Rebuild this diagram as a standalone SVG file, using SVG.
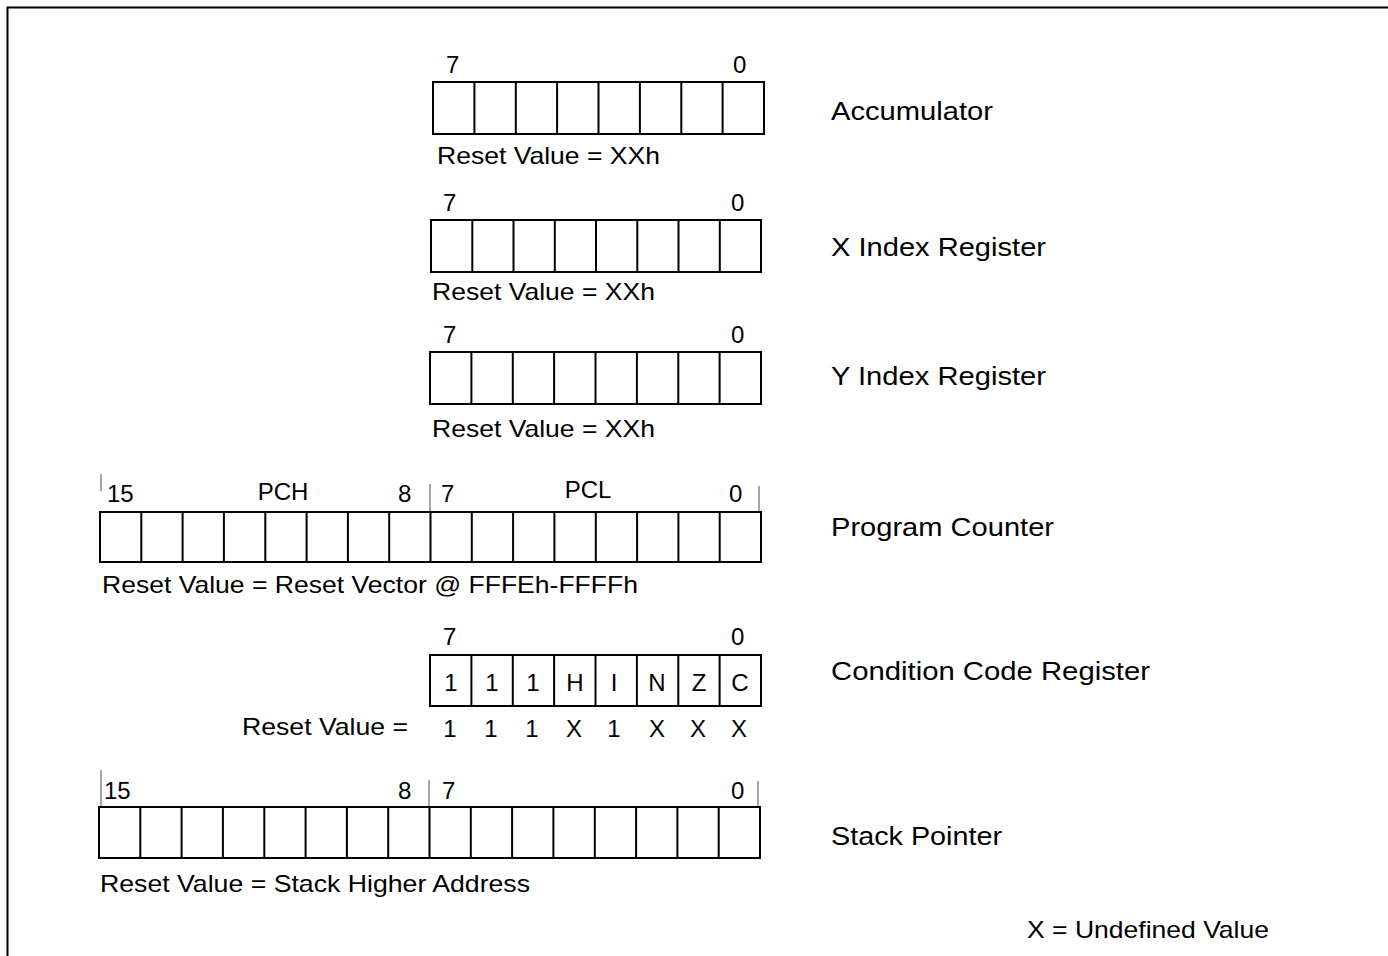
<svg xmlns="http://www.w3.org/2000/svg" width="1388" height="956" viewBox="0 0 1388 956">
<style>
text{font-family:"Liberation Sans",Arial,sans-serif;fill:#000}
.t{font-size:24px}
.lbl{font-size:26px}
.box{fill:#fff;stroke:#000;stroke-width:2}
.div{stroke:#000;stroke-width:2;fill:none}
.tick{stroke:#888;stroke-width:1.5}
.c{text-anchor:middle}
</style>
<rect width="1388" height="956" fill="#fff"/>
<g id="frame"><path d="M7.5 956 V7.5 H1388" fill="none" stroke="#000" stroke-width="2"/></g>

<g id="accumulator">
<text class="t" x="446" y="73">7</text>
<text class="t" x="733" y="73">0</text>
<rect class="box" x="433" y="82" width="331" height="52"/>
<path class="div" d="M474.4 82v52M515.8 82v52M557.1 82v52M598.5 82v52M639.9 82v52M681.3 82v52M722.6 82v52"/>
<text class="t" x="437" y="164" textLength="223" lengthAdjust="spacingAndGlyphs">Reset Value = XXh</text>
<text class="lbl" x="831" y="120" textLength="162" lengthAdjust="spacingAndGlyphs">Accumulator</text>
</g>

<g id="xindex">
<text class="t" x="443" y="211">7</text>
<text class="t" x="731" y="211">0</text>
<rect class="box" x="431" y="220" width="330" height="52"/>
<path class="div" d="M472.3 220v52M513.5 220v52M554.8 220v52M596 220v52M637.3 220v52M678.5 220v52M719.8 220v52"/>
<text class="t" x="432" y="300" textLength="223" lengthAdjust="spacingAndGlyphs">Reset Value = XXh</text>
<text class="lbl" x="831" y="256" textLength="215" lengthAdjust="spacingAndGlyphs">X Index Register</text>
</g>

<g id="yindex">
<text class="t" x="443" y="343">7</text>
<text class="t" x="731" y="343">0</text>
<rect class="box" x="430" y="352" width="331" height="52"/>
<path class="div" d="M471.4 352v52M512.8 352v52M554.1 352v52M595.5 352v52M636.9 352v52M678.3 352v52M719.6 352v52"/>
<text class="t" x="432" y="437" textLength="223" lengthAdjust="spacingAndGlyphs">Reset Value = XXh</text>
<text class="lbl" x="831" y="385" textLength="215" lengthAdjust="spacingAndGlyphs">Y Index Register</text>
</g>

<g id="programcounter">
<line class="tick" x1="101" y1="474" x2="101" y2="491"/>
<line class="tick" x1="430" y1="484" x2="430" y2="512"/>
<line class="tick" x1="759" y1="486" x2="759" y2="512"/>
<text class="t" x="107" y="502">15</text>
<text class="t c" x="283" y="500">PCH</text>
<text class="t" x="398" y="502">8</text>
<text class="t" x="441" y="502">7</text>
<text class="t c" x="588" y="498">PCL</text>
<text class="t" x="729" y="502">0</text>
<rect class="box" x="100" y="512" width="661" height="50"/>
<path class="div" d="M141.3 512v50M182.6 512v50M223.9 512v50M265.3 512v50M306.6 512v50M347.9 512v50M389.2 512v50M430.5 512v50M471.8 512v50M513.1 512v50M554.4 512v50M595.8 512v50M637.1 512v50M678.4 512v50M719.7 512v50"/>
<text class="t" x="102" y="593" textLength="536" lengthAdjust="spacingAndGlyphs">Reset Value = Reset Vector @ FFFEh-FFFFh</text>
<text class="lbl" x="831" y="536" textLength="223" lengthAdjust="spacingAndGlyphs">Program Counter</text>
</g>

<g id="ccr">
<text class="t" x="443" y="645">7</text>
<text class="t" x="731" y="645">0</text>
<rect class="box" x="430" y="655" width="331" height="51"/>
<path class="div" d="M471.4 655v51M512.8 655v51M554.1 655v51M595.5 655v51M636.9 655v51M678.3 655v51M719.6 655v51"/>
<text class="t c" x="451" y="691">1</text>
<text class="t c" x="492" y="691">1</text>
<text class="t c" x="533" y="691">1</text>
<text class="t c" x="575" y="691">H</text>
<text class="t c" x="614" y="691">I</text>
<text class="t c" x="657" y="691">N</text>
<text class="t c" x="699" y="691">Z</text>
<text class="t c" x="740" y="691">C</text>
<text class="t" x="242" y="735" textLength="166" lengthAdjust="spacingAndGlyphs">Reset Value =</text>
<text class="t c" x="450" y="737">1</text>
<text class="t c" x="491" y="737">1</text>
<text class="t c" x="532" y="737">1</text>
<text class="t c" x="574" y="737">X</text>
<text class="t c" x="614" y="737">1</text>
<text class="t c" x="657" y="737">X</text>
<text class="t c" x="698" y="737">X</text>
<text class="t c" x="739" y="737">X</text>
<text class="lbl" x="831" y="680" textLength="319" lengthAdjust="spacingAndGlyphs">Condition Code Register</text>
</g>

<g id="stackpointer">
<line class="tick" x1="101" y1="770" x2="101" y2="807"/>
<line class="tick" x1="429" y1="780" x2="429" y2="807"/>
<line class="tick" x1="758" y1="781" x2="758" y2="807"/>
<text class="t" x="104" y="799">15</text>
<text class="t" x="398" y="799">8</text>
<text class="t" x="442" y="799">7</text>
<text class="t" x="731" y="799">0</text>
<rect class="box" x="99" y="807" width="661" height="51"/>
<path class="div" d="M140.3 807v51M181.6 807v51M222.9 807v51M264.3 807v51M305.6 807v51M346.9 807v51M388.2 807v51M429.5 807v51M470.8 807v51M512.1 807v51M553.4 807v51M594.8 807v51M636.1 807v51M677.4 807v51M718.7 807v51"/>
<text class="t" x="100" y="892" textLength="430" lengthAdjust="spacingAndGlyphs">Reset Value = Stack Higher Address</text>
<text class="lbl" x="831" y="845" textLength="171" lengthAdjust="spacingAndGlyphs">Stack Pointer</text>
</g>

<g id="legend">
<text class="t" x="1027" y="938" textLength="242" lengthAdjust="spacingAndGlyphs">X = Undefined Value</text>
</g>
<g id="connectors"/>
</svg>
